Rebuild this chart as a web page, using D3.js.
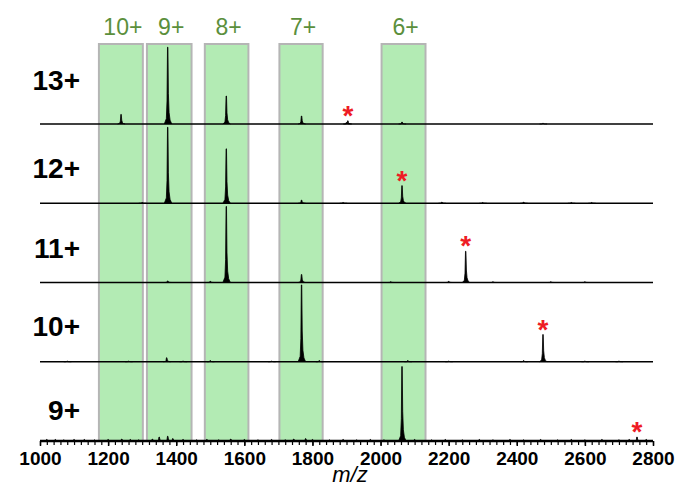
<!DOCTYPE html>
<html>
<head>
<meta charset="utf-8">
<script src="https://cdn.jsdelivr.net/npm/d3@7"></script>
<style>
  body { margin: 0; background: #fff; }
  svg { display: block; font-family: Arial, "Liberation Sans", sans-serif; }
</style>
</head>
<body>
<div id="chart"></div>
<script>
// charge states of the precursor, one spectrum per row
var rowLabels = ["13+", "12+", "11+", "10+", "9+"];

// charge state windows (green boxes), m/z
var windowLabels = ["10+", "9+", "8+", "7+", "6+"];
var windowStart = [1173, 1314, 1484, 1703, 2003];
var windowEnd = [1302, 1445, 1612, 1830, 2132];

// peaks per row: [m/z, relative intensity %]
var spec13 = [[1238, 12], [1375, 96], [1547, 35], [1768, 10], [1900, 2], [1904, 4], [2063, 2.5], [2477, 1]];
var spec12 = [[1375, 95], [1547, 68], [1768, 4], [2063, 22], [1300, 1], [1890, 1], [2180, 1.5], [2300, 1], [2420, 1.5], [2560, 1], [2620, 1]];
var spec11 = [[1547, 95], [1768, 10], [2250, 39], [1375, 2], [1500, 1.5], [2030, 1], [2200, 1.5], [2330, 1], [2500, 1], [2600, 1]];
var spec10 = [[1768, 96], [1372, 5], [2477, 34], [1080, 1], [1260, 1], [1420, 1], [1500, 1.5], [1680, 1], [1820, 1.5], [2080, 1.5], [2200, 1], [2420, 1.5], [2600, 1], [2700, 1]];
var spec9 = [[2063, 93], [1350, 5], [1375, 6], [1390, 3], [2753, 5],
  [1020, 2], [1045, 2], [1070, 1.5], [1100, 2], [1130, 2], [1160, 1.5], [1200, 2], [1240, 2.5], [1265, 2],
  [1290, 1.5], [1330, 2.5], [1420, 2], [1460, 1.5], [1490, 2], [1525, 1.5], [1560, 2.5], [1600, 2],
  [1640, 1.5], [1680, 2], [1720, 1.5], [1745, 2.5], [1780, 3], [1800, 2], [1850, 1.5], [1890, 2],
  [1930, 1.5], [1970, 2], [2010, 1.5], [2100, 2], [2150, 1.5], [2190, 2], [2240, 1.5], [2290, 2],
  [2330, 1.5], [2380, 2], [2420, 1.5], [2470, 2], [2520, 1.5], [2560, 2], [2600, 1.5], [2650, 2],
  [2700, 1.5], [2730, 2], [2780, 2]];
var spectra = [spec13, spec12, spec11, spec10, spec9];

// m/z of the peak marked with a red asterisk in each row
var starMz = [1904, 2063, 2250, 2477, 2753];

var xTicks = [1000, 1200, 1400, 1600, 1800, 2000, 2200, 2400, 2600, 2800];

// ---- layout ----
var width = 677, height = 487;
var x = d3.scaleLinear().domain([1000, 2800]).range([40, 653]);
var rowY = d3.scaleLinear().domain([0, rowLabels.length - 1]).range([124, 441]);
var inten = d3.scaleLinear().domain([0, 100]).range([0, 80]);
var labelDy = [-34, -25, -25, -26, -21]; // row label baseline offsets

// peak profile: [delta m/z, fraction of height]
var profile = [[-10, 0], [-4, 0.07], [-2, 0.3], [-0.6, 1], [0.6, 1], [2, 0.4], [4, 0.15], [7, 0.05], [12, 0]];

var svg = d3.select("#chart").append("svg")
  .attr("width", width)
  .attr("height", height);

// green windows under the traces
svg.append("g").selectAll("rect")
  .data(windowLabels)
  .enter().append("rect")
  .attr("x", (d, i) => x(windowStart[i]))
  .attr("y", 44)
  .attr("width", (d, i) => x(windowEnd[i]) - x(windowStart[i]))
  .attr("height", rowY(rowLabels.length - 1) - 44)
  .attr("fill", "#b3ebb4")
  .attr("stroke", "#b5b5b5")
  .attr("stroke-width", 2);

svg.append("g").selectAll("text")
  .data(windowLabels)
  .enter().append("text")
  .attr("x", (d, i) => (x(windowStart[i]) + x(windowEnd[i])) / 2 + 2)
  .attr("y", 35)
  .attr("text-anchor", "middle")
  .attr("font-size", 23)
  .attr("fill", "#5b8f3c")
  .text(d => d);

// spectra
var rows = svg.append("g").selectAll("g")
  .data(spectra)
  .enter().append("g")
  .attr("transform", (d, i) => "translate(0," + rowY(i) + ")");

rows.append("line")
  .attr("x1", x(1000))
  .attr("x2", x(2800))
  .attr("stroke", "#000")
  .attr("stroke-width", (d, i) => i == rowLabels.length - 1 ? 2.5 : 1.5);

var peakLine = d3.line();
rows.selectAll("path")
  .data(d => d)
  .enter().append("path")
  .attr("d", p => peakLine(profile.map(q => [x(p[0] + q[0]), -inten(p[1] * q[1])])))
  .attr("fill", "#000")
  .attr("stroke", "#000")
  .attr("stroke-width", 0.8)
  .attr("stroke-linejoin", "round");

// red asterisks over the marked peaks
rows.append("text")
  .attr("x", (d, i) => x(starMz[i]))
  .attr("y", (d, i) => {
    var pk = d.find(p => p[0] == starMz[i]);
    return -inten(pk ? pk[1] : 0) + 4;
  })
  .attr("text-anchor", "middle")
  .attr("font-size", 28)
  .attr("font-weight", "bold")
  .attr("fill", "#ee1c25")
  .text("*");

// row labels
svg.append("g").selectAll("text")
  .data(rowLabels)
  .enter().append("text")
  .attr("x", 80)
  .attr("y", (d, i) => rowY(i) + labelDy[i])
  .attr("text-anchor", "end")
  .attr("font-size", 28)
  .attr("font-weight", "bold")
  .attr("fill", "#000")
  .text(d => d);

// x axis: minor ticks every 20, labels every 200
var axisY = rowY(rowLabels.length - 1);
var axis = svg.append("g").attr("transform", "translate(0," + axisY + ")");
axis.call(d3.axisBottom(x).tickValues(d3.range(1000, 2801, 20)).tickSize(4).tickFormat(""))
  .call(g => g.select(".domain").remove())
  .call(g => g.selectAll("line").attr("stroke", "#000").attr("stroke-width", 1.2));
axis.append("g")
  .call(d3.axisBottom(x).tickValues(xTicks).tickSize(5).tickFormat(d3.format("d")))
  .call(g => g.select(".domain").remove())
  .call(g => g.selectAll("line").attr("stroke", "#000").attr("stroke-width", 1.5))
  .call(g => g.selectAll("text")
    .attr("font-size", 19)
    .attr("font-weight", "bold")
    .attr("font-family", "Arial, 'Liberation Sans', sans-serif")
    .attr("fill", "#000")
    .attr("dy", null)
    .attr("y", 24));

svg.append("text")
  .attr("x", 350)
  .attr("y", 482)
  .attr("text-anchor", "middle")
  .attr("font-size", 22)
  .attr("font-style", "italic")
  .text("m/z");
</script>
</body>
</html>
